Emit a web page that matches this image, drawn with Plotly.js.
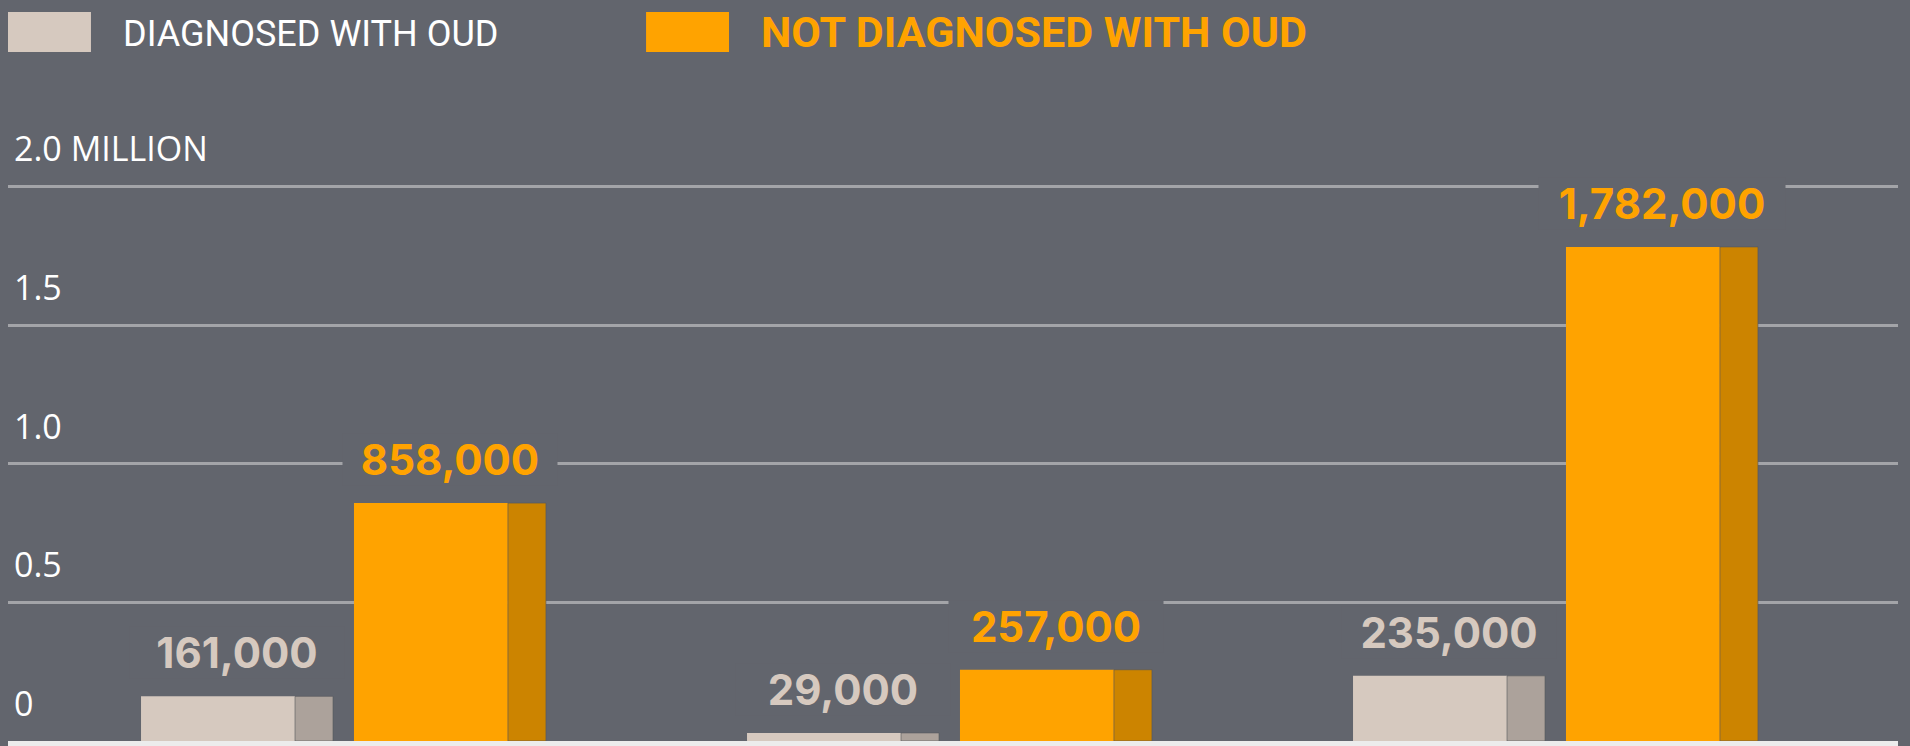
<!DOCTYPE html>
<html>
<head>
<meta charset="utf-8">
<script src="https://cdn.plot.ly/plotly-3.0.1.min.js"></script>
<style>
  html, body { margin: 0; padding: 0; background: #62656d; }
  #chart { width: 1910px; height: 746px; }
</style>
</head>
<body>
<div id="chart"></div>
<script>
// ---- data ----
const groups = ['Group 1', 'Group 2', 'Group 3'];
const diagnosed = [161000, 29000, 235000];
const notDiagnosed = [858000, 257000, 1782000];
const seriesNames = ['DIAGNOSED WITH OUD', 'NOT DIAGNOSED WITH OUD'];
const tickValues = [0, 500000, 1000000, 1500000, 2000000];
const tickLabels = ['0', '0.5', '1.0', '1.5', '2.0 MILLION'];

// ---- styles ----
const BG = '#62656d';
const BEIGE = '#d6c9bf', BEIGE_DARK = '#aca29b';
const ORANGE = '#ffa300', ORANGE_DARK = '#cc8400';
const FULL_W = 0.3168, FACE_W = 0.2541, SIDE_W = FULL_W - FACE_W;
const GAP = 0.0346;
const xs = groups.map((_, i) => i);

function barPair(vals, start, face, side, name) {
  return [
    { type: 'bar', x: xs, y: vals, offset: start, width: FACE_W, name: name,
      marker: { color: face }, hoverinfo: 'y', showlegend: false },
    { type: 'bar', x: xs, y: vals, offset: start + FACE_W, width: SIDE_W, name: name,
      marker: { color: side, line: { color: '#55575c', width: 0.6 } }, hoverinfo: 'y', showlegend: false }
  ];
}

const dStart = -GAP / 2 - FULL_W;
const nStart = GAP / 2;
const traces = [
  ...barPair(diagnosed, dStart, BEIGE, BEIGE_DARK, seriesNames[0]),
  ...barPair(notDiagnosed, nStart, ORANGE, ORANGE_DARK, seriesNames[1])
];

const fmt = v => v.toLocaleString('en-US');
const labelFont = { family: 'Inter, "Open Sans", sans-serif', size: 42, weight: 700 };
const annotations = [];
function addLabels(vals, center, color) {
  vals.forEach((v, i) => {
    const t = fmt(v);
    annotations.push({
      x: i + center, y: v, xref: 'x', yref: 'y', text: '<b>' + t + '</b>',
      showarrow: false, xanchor: 'center', yanchor: 'bottom', yshift: 17,
      font: Object.assign({}, labelFont, { color: color }),
      bgcolor: BG, borderpad: 0, width: t.length > 7 ? 246 : 214
    });
  });
}
addLabels(diagnosed, dStart + FULL_W / 2, BEIGE);
addLabels(notDiagnosed, nStart + FULL_W / 2, ORANGE);

// legend text
annotations.push({
  xref: 'paper', yref: 'paper', x: 0.0598, y: 1.0389, xanchor: 'left', yanchor: 'middle',
  showarrow: false, text: seriesNames[0],
  font: { family: 'Roboto, sans-serif', size: 36, color: '#ffffff' }
});
annotations.push({
  xref: 'paper', yref: 'paper', x: 0.3974, y: 1.0411, xanchor: 'left', yanchor: 'middle',
  showarrow: false, text: '<b>' + seriesNames[1] + '</b>',
  font: { family: 'Roboto, sans-serif', size: 43, color: ORANGE }
});

const shapes = [
  { type: 'rect', xref: 'paper', yref: 'paper', x0: 0, x1: 0.0439, y0: 1.0117, y1: 1.0705,
    fillcolor: BEIGE, line: { width: 0 } },
  { type: 'rect', xref: 'paper', yref: 'paper', x0: 0.3376, x1: 0.3815, y0: 1.0117, y1: 1.0705,
    fillcolor: ORANGE, line: { width: 0 } }
];

const layout = {
  width: 1910, height: 746,
  margin: { l: 8, r: 12, t: 60, b: 5, pad: 0 },
  paper_bgcolor: BG, plot_bgcolor: BG,
  barmode: 'overlay',
  showlegend: false,
  xaxis: {
    range: [-0.5536, 2.5652], showticklabels: false, ticks: '', showgrid: false,
    zeroline: false, showline: true, linecolor: '#ececec', linewidth: 5, fixedrange: true
  },
  yaxis: {
    range: [0, 2456300], tickvals: tickValues, ticktext: tickLabels,
    ticklabelposition: 'inside', ticks: '', ticklabelshift: -37, ticklabelstandoff: 3,
    tickfont: { family: '"Open Sans", sans-serif', size: 34, color: '#ffffff' },
    showgrid: true, gridcolor: '#a3a4a8', gridwidth: 3, zeroline: false, showline: false,
    fixedrange: true
  },
  annotations: annotations,
  shapes: shapes
};

Plotly.newPlot('chart', traces, layout, { displayModeBar: false, staticPlot: true });
</script>
</body>
</html>
